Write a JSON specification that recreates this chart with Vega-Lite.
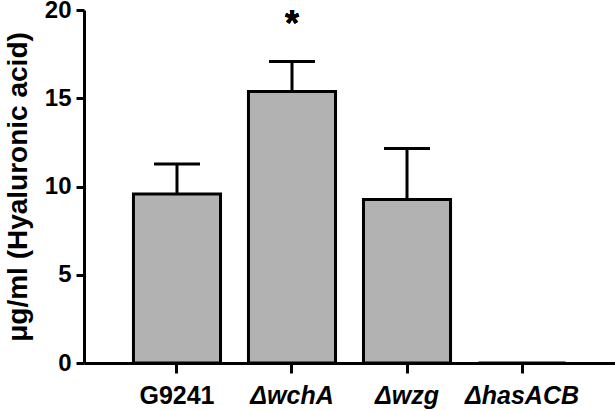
{
  "$schema": "https://vega.github.io/schema/vega-lite/v6.json",
  "autosize": {"type": "none"},
  "padding": {"left": 84, "top": 10, "right": 0, "bottom": 48},
  "width": 531,
  "height": 353,
  "background": "white",
  "config": {"view": {"stroke": null}, "font": "Liberation Sans"},
  "data": {"values": [
    {"strain": "G9241", "mean": 9.57, "upper": 11.27},
    {"strain": "ΔwchA", "mean": 15.38, "upper": 17.08},
    {"strain": "Δwzg", "mean": 9.26, "upper": 12.15},
    {"strain": "ΔhasACB", "mean": 0, "upper": null}
  ]},
  "encoding": {
    "x": {
      "field": "strain", "type": "nominal", "sort": null,
      "scale": {"paddingInner": 0.243, "paddingOuter": 0.43},
      "axis": {
        "title": null, "labelAngle": 0, "labelFont": "Liberation Sans", "labelFontSize": 25, "labelFontWeight": "bold",
        "labelFontStyle": {"condition": {"test": "datum.value != 'G9241'", "value": "italic"}, "value": "normal"},
        "labelColor": "black", "labelPadding": 10,
        "domainColor": "black", "domainWidth": 3, "tickColor": "black", "tickWidth": 3, "tickSize": 10
      }
    }
  },
  "layer": [
    {
      "mark": {"type": "bar", "fill": "#b2b2b2", "stroke": "black", "strokeWidth": 3},
      "encoding": {
        "y": {
          "field": "mean", "type": "quantitative",
          "scale": {"domain": [0, 20], "nice": false},
          "axis": {
            "values": [0, 5, 10, 15, 20], "grid": false,
            "title": "μg/ml (Hyaluronic acid)", "titleFont": "Liberation Sans", "titleFontSize": 28, "titleFontWeight": "bold",
            "titleColor": "black", "titleBaseline": "alphabetic", "titleX": -58,
            "labelFont": "Liberation Sans", "labelFontSize": 24, "labelFontWeight": "bold", "labelColor": "black", "labelPadding": 5,
            "domainColor": "black", "domainWidth": 3, "tickColor": "black", "tickWidth": 3, "tickSize": 8
          }
        }
      }
    },
    {
      "transform": [{"filter": "datum.upper != null"}],
      "mark": {"type": "rule", "color": "black", "strokeWidth": 3},
      "encoding": {
        "y": {"field": "mean", "type": "quantitative"},
        "y2": {"field": "upper"}
      }
    },
    {
      "transform": [{"filter": "datum.upper != null"}],
      "mark": {"type": "tick", "color": "black", "size": 46, "thickness": 3, "opacity": 1},
      "encoding": {
        "y": {"field": "upper", "type": "quantitative"}
      }
    },
    {
      "mark": {"type": "text", "text": "*", "fontSize": 36, "fontWeight": "bold", "color": "black", "baseline": "alphabetic", "align": "center"},
      "encoding": {
        "x": {"datum": "ΔwchA"},
        "y": {"datum": 18.5}
      }
    }
  ]
}
